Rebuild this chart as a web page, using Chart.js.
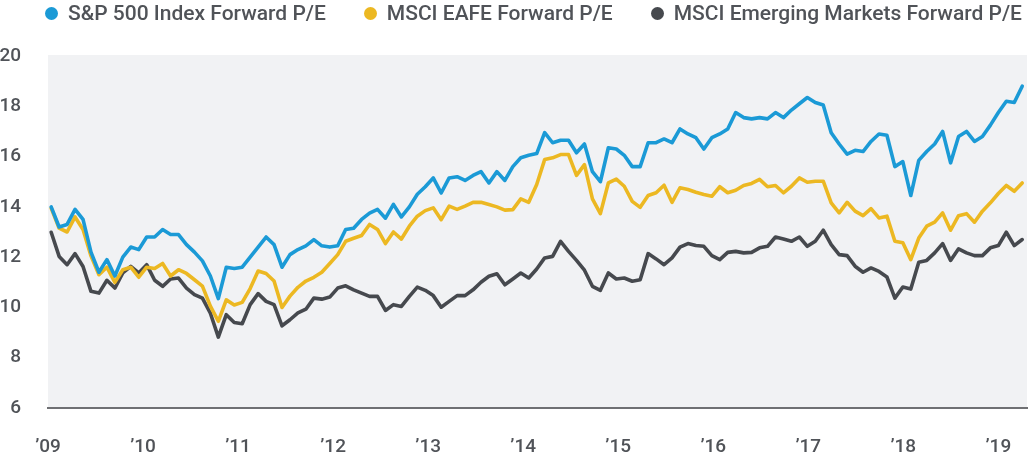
<!DOCTYPE html>
<html>
<head>
<meta charset="utf-8">
<script src="https://cdn.jsdelivr.net/npm/chart.js@4.4.0/dist/chart.umd.min.js"></script>
<style>
  html, body { margin: 0; padding: 0; background: #fff; overflow: hidden; }
  #wrap { position: relative; width: 1033px; height: 455px; }
  #legend {
    position: absolute; left: 45px; right: 11px; top: 0; height: 26px;
    display: flex; justify-content: space-between; align-items: center;
    font-family: Roboto, sans-serif; font-size: 21px; font-weight: 500; color: #505358;
    white-space: nowrap;
  }
  #legend .item { display: flex; align-items: center; }
  #legend .dot { width: 13px; height: 13px; border-radius: 50%; margin-right: 10px; }
  canvas { display: block; }
</style>
</head>
<body>
<div id="wrap">
  <div id="legend"></div>
  <canvas id="pe-chart" width="1033" height="455"></canvas>
</div>
<script>
var yearLabels = ["\u201909", "\u201910", "\u201911", "\u201912", "\u201913", "\u201914", "\u201915", "\u201916", "\u201917", "\u201918", "\u201919"];

var seriesNames = ["S&P 500 Index Forward P/E", "MSCI EAFE Forward P/E", "MSCI Emerging Markets Forward P/E"];

var sp500 = [14.0, 13.2, 13.3, 13.9, 13.5, 12.2, 11.4, 11.9, 11.25, 12.0,
  12.4, 12.3, 12.8, 12.8, 13.1, 12.9, 12.9, 12.5, 12.2, 11.85,
  11.25, 10.35, 11.6, 11.55, 11.6, 12.0, 12.4, 12.8, 12.5, 11.6,
  12.1, 12.3, 12.45, 12.7, 12.45, 12.4, 12.45, 13.1, 13.15, 13.5,
  13.75, 13.9, 13.55, 14.1, 13.6, 14.0, 14.5, 14.8, 15.15, 14.55,
  15.15, 15.2, 15.05, 15.25, 15.4, 14.95, 15.4, 15.05, 15.6, 15.95,
  16.05, 16.12, 16.95, 16.55, 16.65, 16.65, 16.15, 16.5, 15.4, 15.0,
  16.35, 16.3, 16.05, 15.6, 15.6, 16.55, 16.55, 16.7, 16.55, 17.1,
  16.9, 16.75, 16.3, 16.75, 16.9, 17.1, 17.75, 17.55, 17.5, 17.55,
  17.5, 17.75, 17.55, 17.85, 18.1, 18.35, 18.15, 18.05, 16.95, 16.5,
  16.1, 16.25, 16.2, 16.6, 16.9, 16.85, 15.6, 15.8, 14.45, 15.85,
  16.2, 16.5, 17.0, 15.75, 16.8, 17.0, 16.6, 16.8, 17.25, 17.75,
  18.2, 18.15, 18.8];

var eafe = [13.95, 13.15, 13.0, 13.6, 13.1, 12.05, 11.3, 11.6, 11.0, 11.5,
  11.6, 11.2, 11.6, 11.55, 11.75, 11.25, 11.5, 11.35, 11.1, 10.85,
  10.05, 9.45, 10.3, 10.1, 10.2, 10.75, 11.45, 11.35, 11.05, 10.0,
  10.45, 10.8, 11.05, 11.2, 11.4, 11.75, 12.1, 12.63, 12.75, 12.86,
  13.3, 13.1, 12.54, 13.0, 12.72, 13.23, 13.63, 13.85, 13.96, 13.49,
  14.03, 13.9, 14.03, 14.18, 14.18, 14.09, 14.0, 13.87, 13.89, 14.32,
  14.18, 14.89, 15.88, 15.95, 16.08, 16.08, 15.25, 15.68, 14.32, 13.73,
  14.95, 15.1, 14.82, 14.22, 13.98, 14.45, 14.56, 14.86, 14.18, 14.76,
  14.69, 14.58, 14.49, 14.42, 14.8, 14.56, 14.66, 14.85, 14.93, 15.09,
  14.8, 14.85, 14.56, 14.82, 15.15, 14.98, 15.02, 15.02, 14.16, 13.76,
  14.18, 13.83, 13.65, 13.93, 13.56, 13.63, 12.63, 12.57, 11.9, 12.76,
  13.23, 13.39, 13.76, 13.07, 13.65, 13.73, 13.39, 13.83, 14.16, 14.53,
  14.85, 14.62, 14.95];

var emerging = [12.99, 12.03, 11.7, 12.14, 11.63, 10.64, 10.57, 11.08, 10.77, 11.37,
  11.63, 11.37, 11.7, 11.08, 10.84, 11.13, 11.17, 10.77, 10.51, 10.37,
  9.77, 8.82, 9.71, 9.4, 9.35, 10.11, 10.55, 10.24, 10.11, 9.27,
  9.51, 9.78, 9.93, 10.37, 10.33, 10.41, 10.77, 10.86, 10.7, 10.57,
  10.44, 10.44, 9.88, 10.11, 10.04, 10.44, 10.81, 10.68, 10.47, 10.01,
  10.24, 10.47, 10.47, 10.7, 11.0, 11.24, 11.34, 10.9, 11.13, 11.37,
  11.17, 11.53, 11.97, 12.03, 12.63, 12.23, 11.87, 11.48, 10.84, 10.68,
  11.37, 11.13, 11.17, 11.04, 11.1, 12.14, 11.93, 11.7, 11.97, 12.4,
  12.54, 12.46, 12.43, 12.06, 11.9, 12.19, 12.23, 12.17, 12.19, 12.37,
  12.43, 12.8, 12.72, 12.63, 12.8, 12.43, 12.63, 13.07, 12.5, 12.1,
  12.06, 11.64, 11.4, 11.57, 11.43, 11.21, 10.37, 10.81, 10.73, 11.8,
  11.87, 12.17, 12.54, 11.87, 12.33, 12.17, 12.06, 12.06, 12.37, 12.46,
  12.99, 12.46, 12.7];

var colors = ["#1b9ad6", "#ecb822", "#46494e"];
var textColor = "#505358";
var tickFont = { family: "Roboto, sans-serif", size: 19, weight: 500 };

// months since Jan '09 -> point index; year ticks sit a little under 12 apart on the original
var firstTick = -0.4;
var tickStep = 11.94;

function toPoints(values) {
    return values.map(function (v, i) { return { x: i, y: v }; });
}

var peData = {
    datasets: [sp500, eafe, emerging].map(function (values, k) {
        return {
            label: seriesNames[k],
            data: toPoints(values),
            borderColor: colors[k],
            backgroundColor: colors[k],
            borderWidth: 3.6,
            pointRadius: 0,
            tension: 0,
            borderJoinStyle: 'round',
            borderCapStyle: 'round'
        };
    })
};

var plotBackground = {
    id: 'plotBackground',
    beforeDraw: function (chart) {
        var a = chart.chartArea, ctx = chart.ctx;
        ctx.save();
        ctx.fillStyle = '#f1f2f4';
        ctx.fillRect(a.left, a.top - 1, a.right - a.left, a.bottom - a.top + 1);
        ctx.restore();
    }
};

var htmlLegend = {
    id: 'htmlLegend',
    afterUpdate: function (chart) {
        var box = document.getElementById('legend');
        box.innerHTML = '';
        chart.data.datasets.forEach(function (ds) {
            var item = document.createElement('div');
            item.className = 'item';
            var dot = document.createElement('span');
            dot.className = 'dot';
            dot.style.background = ds.borderColor;
            var txt = document.createElement('span');
            txt.textContent = ds.label;
            item.appendChild(dot);
            item.appendChild(txt);
            box.appendChild(item);
        });
    }
};

var chartOptions = {
    responsive: false,
    animation: false,
    layout: { padding: { top: 56, right: 6, left: 0, bottom: 0 } },
    scales: {
        x: {
            type: 'linear',
            min: firstTick,
            max: 122.6,
            grid: { display: false },
            border: { display: true, color: '#6f7073', width: 2 },
            afterFit: function (s) { s.height = 47; },
            afterBuildTicks: function (s) {
                s.ticks = yearLabels.map(function (_, k) { return { value: firstTick + k * tickStep }; });
            },
            ticks: {
                autoSkip: false,
                maxRotation: 0,
                padding: 20,
                color: textColor,
                font: tickFont,
                callback: function (value, index) { return yearLabels[index]; }
            }
        },
        y: {
            min: 6,
            max: 20,
            grid: { display: false },
            border: { display: false },
            afterFit: function (s) { s.width = 48; },
            ticks: {
                stepSize: 2,
                padding: 19,
                color: textColor,
                font: tickFont
            }
        }
    },
    plugins: {
        legend: { display: false },
        tooltip: { enabled: false }
    }
};

var peChart = new Chart(document.getElementById("pe-chart"), {
    type: 'line',
    data: peData,
    options: chartOptions,
    plugins: [plotBackground, htmlLegend]
});
</script>
</body>
</html>
